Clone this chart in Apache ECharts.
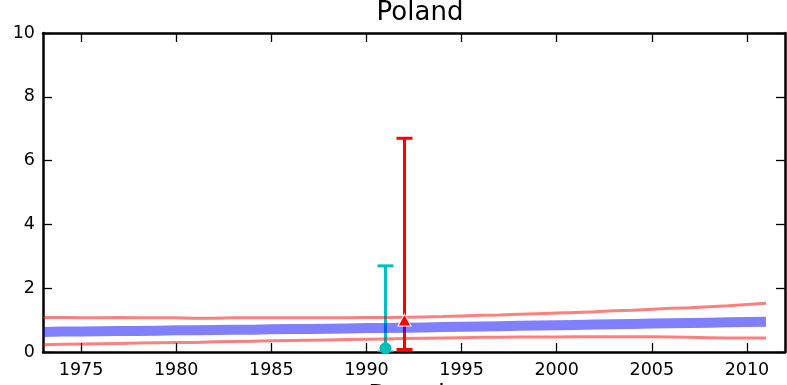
<!DOCTYPE html>
<html>
<head>
<meta charset="utf-8">
<script src="https://cdn.jsdelivr.net/npm/echarts@6/dist/echarts.min.js"></script>
<style>html,body{margin:0;padding:0;background:#fff}#c{width:787px;height:385px}</style>
</head>
<body>
<div id="c"></div>
<script>
const years = [1973,1974,1975,1976,1977,1978,1979,1980,1981,1982,1983,1984,1985,1986,1987,1988,1989,1990,1991,1992,1993,1994,1995,1996,1997,1998,1999,2000,2001,2002,2003,2004,2005,2006,2007,2008,2009,2010,2011];
const centralLine = [0.63,0.64,0.64,0.65,0.66,0.66,0.67,0.68,0.68,0.69,0.70,0.70,0.71,0.72,0.72,0.73,0.74,0.75,0.75,0.76,0.77,0.78,0.79,0.80,0.81,0.82,0.83,0.84,0.85,0.86,0.87,0.88,0.89,0.90,0.91,0.92,0.93,0.94,0.95];
const upperBand = [1.08,1.08,1.07,1.07,1.08,1.07,1.07,1.07,1.06,1.06,1.07,1.07,1.07,1.07,1.07,1.07,1.07,1.08,1.08,1.09,1.10,1.11,1.13,1.15,1.16,1.18,1.20,1.22,1.24,1.26,1.29,1.31,1.34,1.37,1.39,1.42,1.45,1.49,1.53];
const lowerBand = [0.23,0.24,0.25,0.26,0.27,0.28,0.29,0.30,0.30,0.32,0.33,0.34,0.35,0.36,0.37,0.38,0.39,0.40,0.41,0.42,0.43,0.44,0.45,0.46,0.46,0.47,0.47,0.47,0.48,0.48,0.48,0.48,0.48,0.47,0.46,0.45,0.44,0.44,0.44];
// error-bar observations: [year, value, low, high]
const cyanObs = [[1991, 0.12, 0.0, 2.7]];
const redObs = [[1992, 1.0, 0.08, 6.7]];
const xTicks = [1975,1980,1985,1990,1995,2000,2005,2010];
const yTicks = [0,2,4,6,8,10];

const FONT = 'DejaVu Sans';
const axisLine = {show:true, onZero:false, lineStyle:{color:'#000', width:2.5}};
const tickIn = {show:true, inside:true, length:9, lineStyle:{color:'#000', width:1.3}};

function errRender(color){
  return function(params, api){
    const x = api.value(0), lo = api.value(2), hi = api.value(3);
    const pHi = api.coord([x, hi]), pLo = api.coord([x, lo]);
    const st = {stroke: color, lineWidth: 3};
    const hw = 8;
    return {type:'group', children:[
      {type:'line', shape:{x1:pHi[0], y1:pHi[1], x2:pLo[0], y2:pLo[1]}, style:st},
      {type:'line', shape:{x1:pHi[0]-hw, y1:pHi[1], x2:pHi[0]+hw, y2:pHi[1]}, style:st},
      {type:'line', shape:{x1:pLo[0]-hw, y1:pLo[1], x2:pLo[0]+hw, y2:pLo[1]}, style:st}
    ]};
  };
}

const chart = echarts.init(document.getElementById('c'), null, {renderer:'canvas'});
chart.setOption({
  animation:false,
  backgroundColor:'#fff',
  textStyle:{fontFamily:FONT},
  title:{text:'Poland', left:415, top:-5, textAlign:'center',
    textStyle:{fontFamily:FONT, fontSize:26, fontWeight:'normal', color:'#000'}},
  grid:{left:43, right:2, top:33, bottom:33, containLabel:false, outerBoundsMode:'none'},
  xAxis:[
    {type:'value', position:'bottom', min:1973, max:2012, axisLine:axisLine,
     axisTick:Object.assign({customValues:xTicks}, tickIn),
     axisLabel:{customValues:xTicks, color:'#000', fontSize:17.5, fontFamily:FONT, margin:9,
       formatter:v=>String(v)},
     splitLine:{show:false},
     name:'Decade', nameLocation:'middle', nameGap:17,
     nameTextStyle:{fontFamily:FONT, fontSize:24, color:'#000'}},
    {type:'value', position:'top', min:1973, max:2012, axisLine:axisLine,
     axisTick:Object.assign({customValues:xTicks}, tickIn),
     axisLabel:{show:false}, splitLine:{show:false}}
  ],
  yAxis:[
    {type:'value', position:'left', min:0, max:10, interval:2, axisLine:axisLine, axisTick:tickIn,
     axisLabel:{color:'#000', fontSize:17.5, fontFamily:FONT, margin:8, formatter:v=>String(v)},
     splitLine:{show:false}},
    {type:'value', position:'right', min:0, max:10, interval:2, axisLine:axisLine, axisTick:tickIn,
     axisLabel:{show:false}, splitLine:{show:false}}
  ],
  series:[
    {type:'custom', z:1, clip:true, renderItem:errRender('#00bfbf'), data:cyanObs},
    {type:'custom', z:1, clip:true, renderItem:errRender('#ff0000'), data:redObs},
    {type:'line', z:2, data:years.map((y,i)=>[y, upperBand[i]]), showSymbol:false, symbol:'none',
     lineStyle:{color:'rgba(255,0,0,0.5)', width:3}},
    {type:'line', z:2, data:years.map((y,i)=>[y, lowerBand[i]]), showSymbol:false, symbol:'none',
     lineStyle:{color:'rgba(255,0,0,0.5)', width:3}},
    {type:'line', z:3, data:years.map((y,i)=>[y, centralLine[i]]), showSymbol:false, symbol:'none',
     lineStyle:{color:'rgba(0,0,255,0.5)', width:10, cap:'butt'}},
    {type:'scatter', z:4, data:cyanObs.map(d=>[d[0], d[1]]), symbol:'circle', symbolSize:12,
     itemStyle:{color:'#00bfbf', opacity:1}},
    {type:'scatter', z:4, data:redObs.map(d=>[d[0], d[1]]), symbol:'triangle', symbolSize:[13,12],
     itemStyle:{color:'#ff0000', borderColor:'#fff', borderWidth:1, opacity:1}}
  ]
});
</script>
</body>
</html>
